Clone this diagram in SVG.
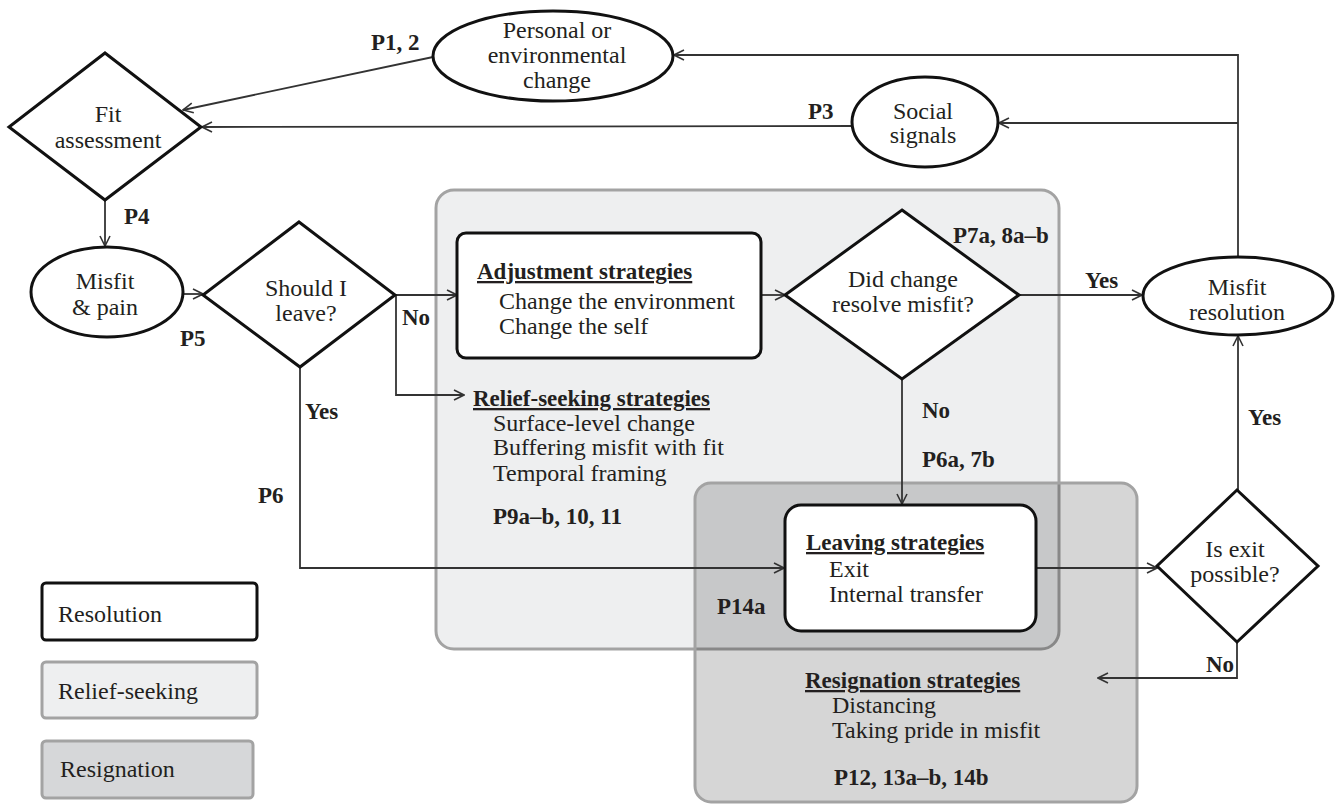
<svg xmlns="http://www.w3.org/2000/svg" width="1339" height="806" viewBox="0 0 1339 806">
<defs>
<marker id="arr" viewBox="0 0 12 12" refX="11" refY="6" markerWidth="12" markerHeight="12" markerUnits="userSpaceOnUse" orient="auto">
<path d="M1,1 L11,6 L1,11" fill="none" stroke="#333" stroke-width="1.6"/>
</marker>
<style>
.t{font-family:"Liberation Serif","Times New Roman",serif;font-size:24px;fill:#231f20}
.b{font-family:"Liberation Serif","Times New Roman",serif;font-size:23px;font-weight:bold;fill:#231f20}
.u{text-decoration:underline}
.m{text-anchor:middle}
.node{fill:#fff;stroke:#111;stroke-width:3}
.c{fill:none;stroke:#333;stroke-width:1.8;marker-end:url(#arr)}
</style>
</defs>
<rect width="1339" height="806" fill="#fff"/>
<g id="relief-region">
<rect x="436" y="190" width="623" height="459" rx="18" fill="#eeeff0" stroke="#a3a3a3" stroke-width="3"/>
</g>
<g id="resignation-region">
<rect x="695" y="483" width="442" height="319" rx="16" fill="#000" fill-opacity="0.16" stroke="#a3a3a3" stroke-width="3"/>
<text class="b u" x="805" y="688">Resignation strategies</text>
<text class="t" x="832" y="713">Distancing</text>
<text class="t" x="832" y="738">Taking pride in misfit</text>
<text class="b" x="834" y="785">P12, 13a–b, 14b</text>
</g>
<g id="connectors">
<path class="c" d="M433,57 L183,110"/>
<path class="c" d="M852,126 L202,127"/>
<path class="c" d="M105,200 L105,246"/>
<path class="c" d="M183,294 L203,294"/>
<path class="c" d="M395,295 L457,295"/>
<path class="c" d="M396,295 L396,395 L464,395"/>
<path class="c" d="M300,367 L300,568 L784,568"/>
<path class="c" d="M761,295 L785,295"/>
<path class="c" d="M1019,295 L1142,295"/>
<path class="c" d="M902,379 L902,504"/>
<path class="c" d="M1036,568 L1157,568"/>
<path class="c" d="M1237,642 L1237,678 L1098,678"/>
<path class="c" d="M1238,490 L1238,336"/>
<path class="c" d="M1238,258 L1238,55 L674,55"/>
<path class="c" d="M1238,123 L999,123"/>
</g>
<g id="labels">
<text class="b" x="371" y="50">P1, 2</text>
<text class="b" x="808" y="119">P3</text>
<text class="b" x="124" y="224">P4</text>
<text class="b" x="180" y="346">P5</text>
<text class="b" x="402" y="325">No</text>
<text class="b" x="305" y="419">Yes</text>
<text class="b" x="258" y="503">P6</text>
<text class="b" x="953" y="243">P7a, 8a–b</text>
<text class="b" x="1085" y="288">Yes</text>
<text class="b" x="922" y="418">No</text>
<text class="b" x="922" y="467">P6a, 7b</text>
<text class="b" x="1248" y="425">Yes</text>
<text class="b" x="1206" y="672">No</text>
<text class="b" x="717" y="614">P14a</text>
</g>
<g id="fit-assessment">
<polygon class="node" points="105,53 201,127 105,200 9,127"/>
<text class="t m" x="108" y="122">Fit</text>
<text class="t m" x="108" y="148">assessment</text>
</g>
<g id="personal-change">
<ellipse class="node" cx="553" cy="56" rx="120" ry="45"/>
<text class="t m" x="557" y="38">Personal or</text>
<text class="t m" x="557" y="63">environmental</text>
<text class="t m" x="557" y="88">change</text>
</g>
<g id="social-signals">
<ellipse class="node" cx="925" cy="122" rx="73" ry="45"/>
<text class="t m" x="923" y="119">Social</text>
<text class="t m" x="923" y="143">signals</text>
</g>
<g id="misfit-pain">
<ellipse class="node" cx="107" cy="292" rx="76" ry="45"/>
<text class="t m" x="105" y="289">Misfit</text>
<text class="t m" x="105" y="315">&amp; pain</text>
</g>
<g id="should-leave">
<polygon class="node" points="299,222 395,295 300,367 203,295"/>
<text class="t m" x="306" y="296">Should I</text>
<text class="t m" x="306" y="321">leave?</text>
</g>
<g id="adjustment">
<rect class="node" x="457" y="233" width="304" height="125" rx="9"/>
<text class="b u" x="477" y="279">Adjustment strategies</text>
<text class="t" x="499" y="309">Change the environment</text>
<text class="t" x="499" y="334">Change the self</text>
</g>
<g id="relief-seeking">
<text class="b u" x="473" y="406">Relief-seeking strategies</text>
<text class="t" x="493" y="431">Surface-level change</text>
<text class="t" x="493" y="455">Buffering misfit with fit</text>
<text class="t" x="493" y="481">Temporal framing</text>
<text class="b" x="493" y="524">P9a–b, 10, 11</text>
</g>
<g id="did-change">
<polygon class="node" points="902,210 1019,295 902,379 785,295"/>
<text class="t m" x="903" y="287">Did change</text>
<text class="t m" x="903" y="312">resolve misfit?</text>
</g>
<g id="misfit-resolution">
<ellipse class="node" cx="1238" cy="296" rx="95" ry="39"/>
<text class="t m" x="1237" y="295">Misfit</text>
<text class="t m" x="1237" y="320">resolution</text>
</g>
<g id="leaving">
<rect class="node" x="785" y="505" width="251" height="126" rx="16"/>
<text class="b u" x="806" y="550">Leaving strategies</text>
<text class="t" x="829" y="577">Exit</text>
<text class="t" x="829" y="602">Internal transfer</text>
</g>
<g id="exit-possible">
<polygon class="node" points="1237,490 1318,566 1237,642 1157,566"/>
<text class="t m" x="1235" y="557">Is exit</text>
<text class="t m" x="1235" y="582">possible?</text>
</g>
<g id="legend">
<rect x="42" y="583" width="215" height="57" rx="4" fill="#fff" stroke="#111" stroke-width="3"/>
<text class="t" x="58" y="622">Resolution</text>
<rect x="42" y="662" width="215" height="56" rx="4" fill="#eeeff0" stroke="#a3a3a3" stroke-width="3"/>
<text class="t" x="58" y="699">Relief-seeking</text>
<rect x="42" y="741" width="211" height="57" rx="4" fill="#d6d7d9" stroke="#a3a3a3" stroke-width="3"/>
<text class="t" x="60" y="777">Resignation</text>
</g>
</svg>
